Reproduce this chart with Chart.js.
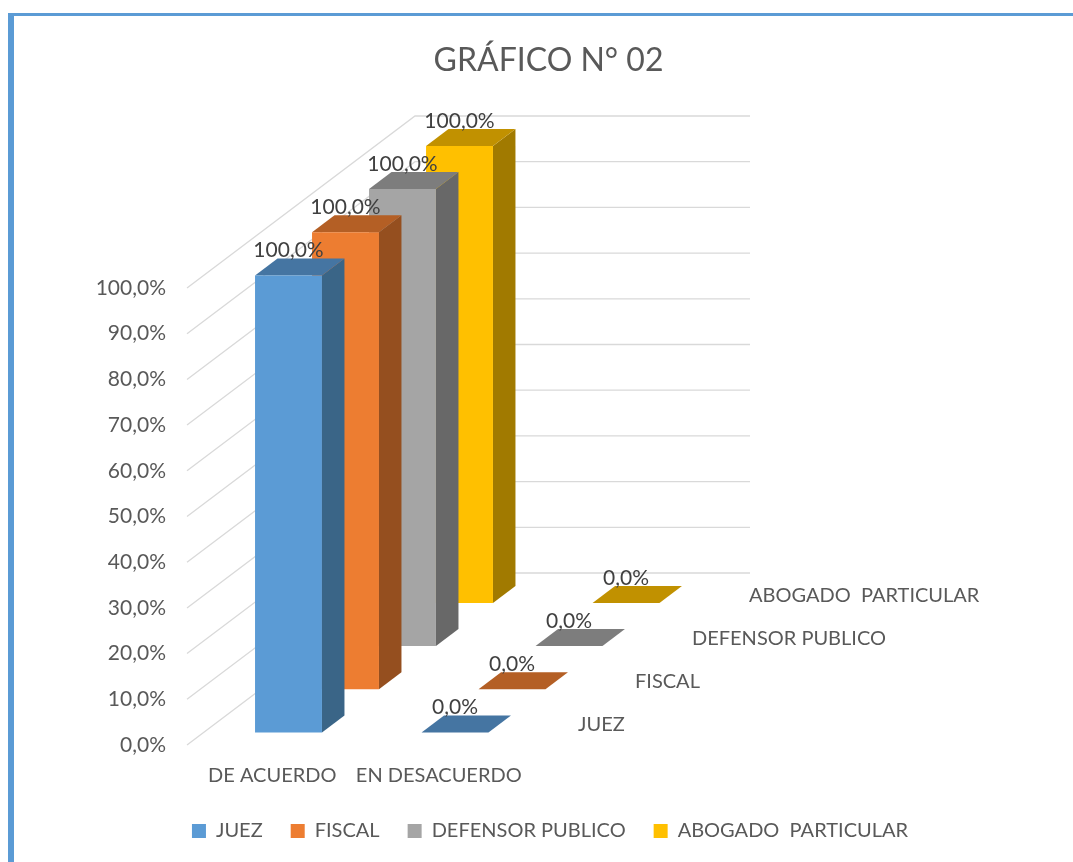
<!DOCTYPE html>
<html>
<head>
<meta charset="utf-8">
<title>GRÁFICO N° 02</title>
<script src="https://cdn.jsdelivr.net/npm/chart.js@4"></script>
<style>
    html, body { margin: 0; padding: 0; background: #fff; overflow: hidden; }
    #marco { position: absolute; left: 8px; top: 13px; right: 0; bottom: 0; border-left: 6px solid #5B9BD5; border-top: 3px solid #5B9BD5; }
    #grafico { position: absolute; left: 0; top: 0; }
</style>
</head>
<body>
<div id="marco"></div>
<canvas id="grafico" width="1073" height="862"></canvas>
<script>
// Datos del gráfico
const categorias = ['DE ACUERDO', 'EN DESACUERDO'];
const series = ['JUEZ', 'FISCAL', 'DEFENSOR PUBLICO', 'ABOGADO  PARTICULAR'];
const juez = [100, 0];
const fiscal = [100, 0];
const defensor = [100, 0];
const abogado = [100, 0];

// Colores: frente, tapa y costado de cada serie
const colorFrente = ['#5B9BD5', '#ED7D31', '#A5A5A5', '#FFC000'];
const colorTapa = ['#4575A2', '#B45F25', '#7D7D7D', '#C19100'];
const colorCostado = ['#3A6587', '#954F1F', '#686868', '#A17A00'];

// Proyección en perspectiva: cuánto se desplaza cada fila de profundidad
const filaX = 57, filaY = 43.2;
const inicioX = 16.25, inicioY = 12.5;
const fondoX = 22.5, fondoY = 17;
const paredX = 228, paredY = 172;
const finParedes = 750;

const colorTexto = '#595959';
const fuente = { family: 'Lato', size: 20 };
const fuenteNumeros = { family: 'Lato', size: 21 };
const formato = v => v.toFixed(1).replace('.', ',') + '%';

// Paredes y líneas de cuadrícula
const paredes = {
    id: 'paredes',
    afterLayout(chart) {
        // La leyenda va un poco a la derecha del título
        chart.legend.left += 1.5;
        chart.legend.right += 1.5;
    },
    beforeDatasetsDraw(chart) {
        const { ctx, scales: { x, y } } = chart;
        ctx.save();
        ctx.strokeStyle = '#D9D9D9';
        ctx.lineWidth = 1.3;
        y.ticks.forEach(t => {
            const py = y.getPixelForValue(t.value);
            ctx.beginPath();
            ctx.moveTo(x.left - 2, py);
            ctx.lineTo(x.left - 2 + paredX, py - paredY);
            ctx.lineTo(finParedes, py - paredY);
            ctx.stroke();
        });
        ctx.restore();
    }
};

// Cada serie se dibuja en su fila, con tapa y costado
const barras3d = {
    id: 'barras3d',
    beforeDatasetDraw(chart, args) {
        const { ctx } = chart;
        const i = args.index;
        ctx.save();
        ctx.translate(inicioX + filaX * i, -inicioY - filaY * i);
        args.meta.data.forEach(bar => {
            const { x, y, base, width } = bar.getProps(['x', 'y', 'base', 'width']);
            const izq = x - width / 2, der = x + width / 2;
            ctx.fillStyle = colorCostado[i];
            ctx.beginPath();
            ctx.moveTo(der, y);
            ctx.lineTo(der + fondoX, y - fondoY);
            ctx.lineTo(der + fondoX, base - fondoY);
            ctx.lineTo(der, base);
            ctx.closePath();
            ctx.fill();
            ctx.fillStyle = colorTapa[i];
            ctx.beginPath();
            ctx.moveTo(izq, y);
            ctx.lineTo(izq + fondoX, y - fondoY);
            ctx.lineTo(der + fondoX, y - fondoY);
            ctx.lineTo(der, y);
            ctx.closePath();
            ctx.fill();
        });
    },
    afterDatasetDraw(chart) {
        chart.ctx.restore();
    },
    afterDatasetsDraw(chart) {
        const { ctx, scales: { x, y } } = chart;
        ctx.save();
        ctx.textBaseline = 'middle';
        chart.data.datasets.forEach((ds, i) => {
            const meta = chart.getDatasetMeta(i);
            ctx.font = '21px Lato';
            ctx.fillStyle = '#404040';
            ctx.textAlign = 'center';
            meta.data.forEach((bar, j) => {
                const px = bar.x + inicioX + filaX * i;
                const py = bar.y - inicioY - filaY * i - 25;
                ctx.fillText(formato(ds.data[j]), px, py);
            });
            // Rótulos del eje de profundidad
            ctx.font = '20px Lato';
            ctx.fillStyle = colorTexto;
            ctx.textAlign = 'left';
            ctx.fillText(series[i], x.right + 56 + filaX * i, y.bottom - 20 - filaY * i);
        });
        ctx.restore();
    }
};

const grafico = new Chart(document.getElementById('grafico').getContext('2d'), {
    type: 'bar',
    data: {
        labels: categorias,
        datasets: [juez, fiscal, defensor, abogado].map((valores, i) => ({
            label: series[i],
            data: valores,
            backgroundColor: colorFrente[i],
            clip: false
        }))
    },
    options: {
        responsive: false,
        animation: false,
        barPercentage: 0.402,
        categoryPercentage: 1,
        grouped: false,
        layout: { padding: { left: 24, right: 0, top: 0, bottom: 11 } },
        scales: {
            x: {
                grid: { display: false },
                border: { display: false },
                ticks: { color: colorTexto, font: fuente, padding: 11, maxRotation: 0, autoSkip: false },
                afterFit(scale) { scale.height = 48; }
            },
            y: {
                min: 0,
                max: 100,
                grid: { display: false, drawTicks: false },
                border: { display: false },
                ticks: { stepSize: 10, color: colorTexto, font: fuenteNumeros, padding: 23, callback: formato },
                afterFit(scale) { scale.width = 165; }
            },
            // Reserva el espacio de la derecha, donde van las filas de profundidad
            derecha: {
                position: 'right',
                min: 0,
                max: 1,
                grid: { display: false },
                border: { display: false },
                ticks: { display: false },
                afterFit(scale) { scale.width = 551; }
            }
        },
        plugins: {
            title: {
                display: true,
                text: 'GRÁFICO N° 02',
                color: colorTexto,
                font: { family: 'Lato', size: 32, weight: 'normal' },
                padding: { top: 41, bottom: 208.6 }
            },
            legend: {
                position: 'bottom',
                labels: { color: colorTexto, font: fuente, boxWidth: 14, boxHeight: 14, padding: 28 }
            },
            tooltip: { enabled: false }
        }
    },
    plugins: [paredes, barras3d]
});
</script>
</body>
</html>
